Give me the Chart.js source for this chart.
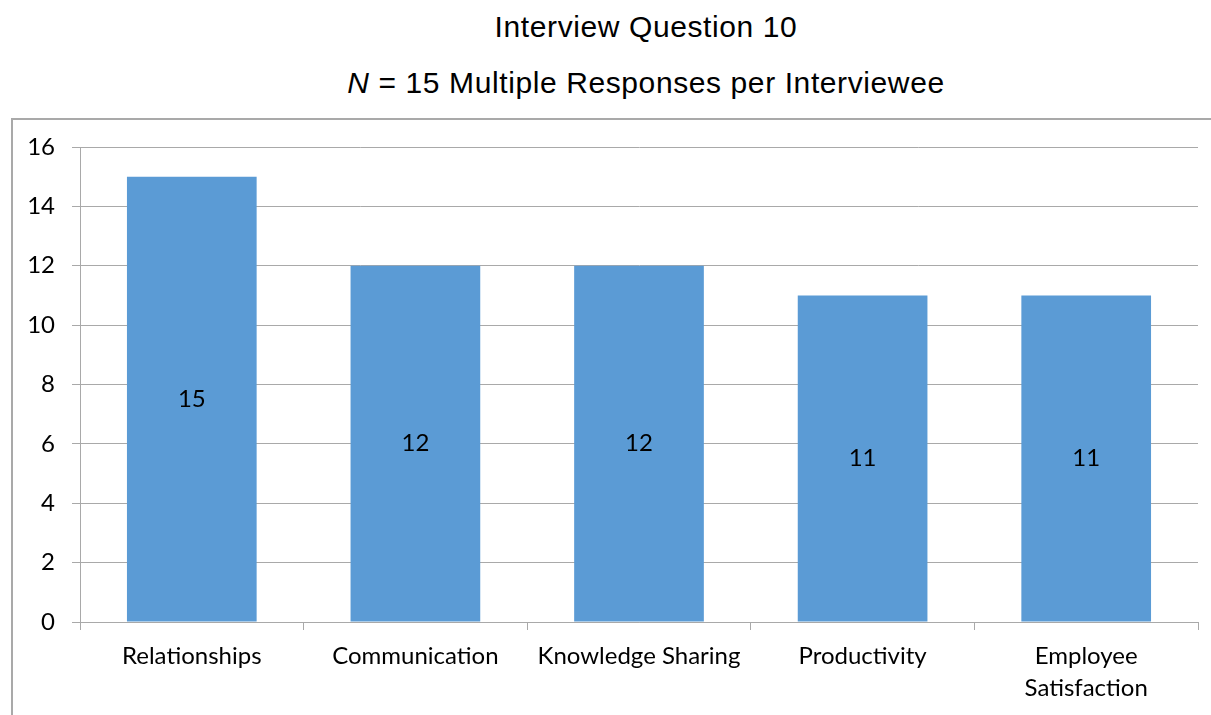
<!DOCTYPE html>
<html>
<head>
<meta charset="utf-8">
<script src="https://cdn.jsdelivr.net/npm/chart.js@4.4.1/dist/chart.umd.min.js"></script>
<style>
  html, body { margin: 0; padding: 0; background: #fff; overflow: hidden; }
  .title {
    position: absolute; left: 0; width: 1292px; text-align: center;
    font-family: "Liberation Sans", Arial, sans-serif; font-size: 30px;
    line-height: 30px; letter-spacing: 0.6px; color: #000; white-space: nowrap;
  }
  #frame {
    position: absolute; left: 11px; top: 118px; width: 1300px; height: 700px;
    border: 2px solid #a9a9a9;
  }
  #chart { position: absolute; left: 0; top: 0; }
</style>
</head>
<body>
<div class="title" style="top: 12px;">Interview Question 10</div>
<div class="title" style="top: 68px;"><i>N</i> = 15 Multiple Responses per Interviewee</div>
<div id="frame"></div>
<canvas id="chart" width="1211" height="715"></canvas>
<script>
const categories = ["Relationships", "Communication", "Knowledge Sharing", "Productivity", ["Employee", "Satisfaction"]];
const responses = [15, 12, 12, 11, 11];
const yTicks = [0, 2, 4, 6, 8, 10, 12, 14, 16];

const gridGray = "#a9a9a9";
const labelFont = { family: "Lato, 'Open Sans', sans-serif", size: 24, lineHeight: 1.35 };

// draw the value in the middle of each bar
const barValues = {
  id: "barValues",
  afterDatasetsDraw(chart) {
    const ctx = chart.ctx;
    const meta = chart.getDatasetMeta(0);
    ctx.save();
    ctx.font = "24px " + labelFont.family;
    ctx.fillStyle = "#000";
    ctx.textAlign = "center";
    ctx.textBaseline = "middle";
    meta.data.forEach((bar, i) => {
      const props = bar.getProps(["x", "y", "base"], true);
      ctx.fillText(String(responses[i]), props.x, (props.y + props.base) / 2);
    });
    ctx.restore();
  }
};

new Chart(document.getElementById("chart").getContext("2d"), {
  type: "bar",
  data: {
    labels: categories,
    datasets: [{
      data: responses,
      backgroundColor: "#5b9bd5",
      borderWidth: 0,
      categoryPercentage: 1,
      barPercentage: 0.58
    }]
  },
  options: {
    responsive: false,
    animation: false,
    devicePixelRatio: 1,
    layout: { padding: { left: 0, top: 147, right: 13, bottom: 0 } },
    plugins: {
      legend: { display: false },
      title: { display: false },
      tooltip: { enabled: false }
    },
    scales: {
      x: {
        afterFit: (scale) => { scale.height = 93; },
        grid: { offset: true, drawOnChartArea: false, drawTicks: true, tickLength: 8, color: gridGray },
        border: { display: true, color: gridGray, width: 1 },
        ticks: { color: "#000", font: labelFont, padding: 10, maxRotation: 0, autoSkip: false }
      },
      y: {
        min: 0,
        max: 16,
        afterFit: (scale) => { scale.width = 80; },
        afterBuildTicks: (scale) => { scale.ticks = yTicks.map((v) => ({ value: v })); },
        grid: { drawTicks: true, tickLength: 8, color: gridGray, lineWidth: 1 },
        border: { display: true, color: gridGray, width: 1 },
        ticks: { color: "#000", font: labelFont, padding: 17 }
      }
    }
  },
  plugins: [barValues]
});
</script>
</body>
</html>
